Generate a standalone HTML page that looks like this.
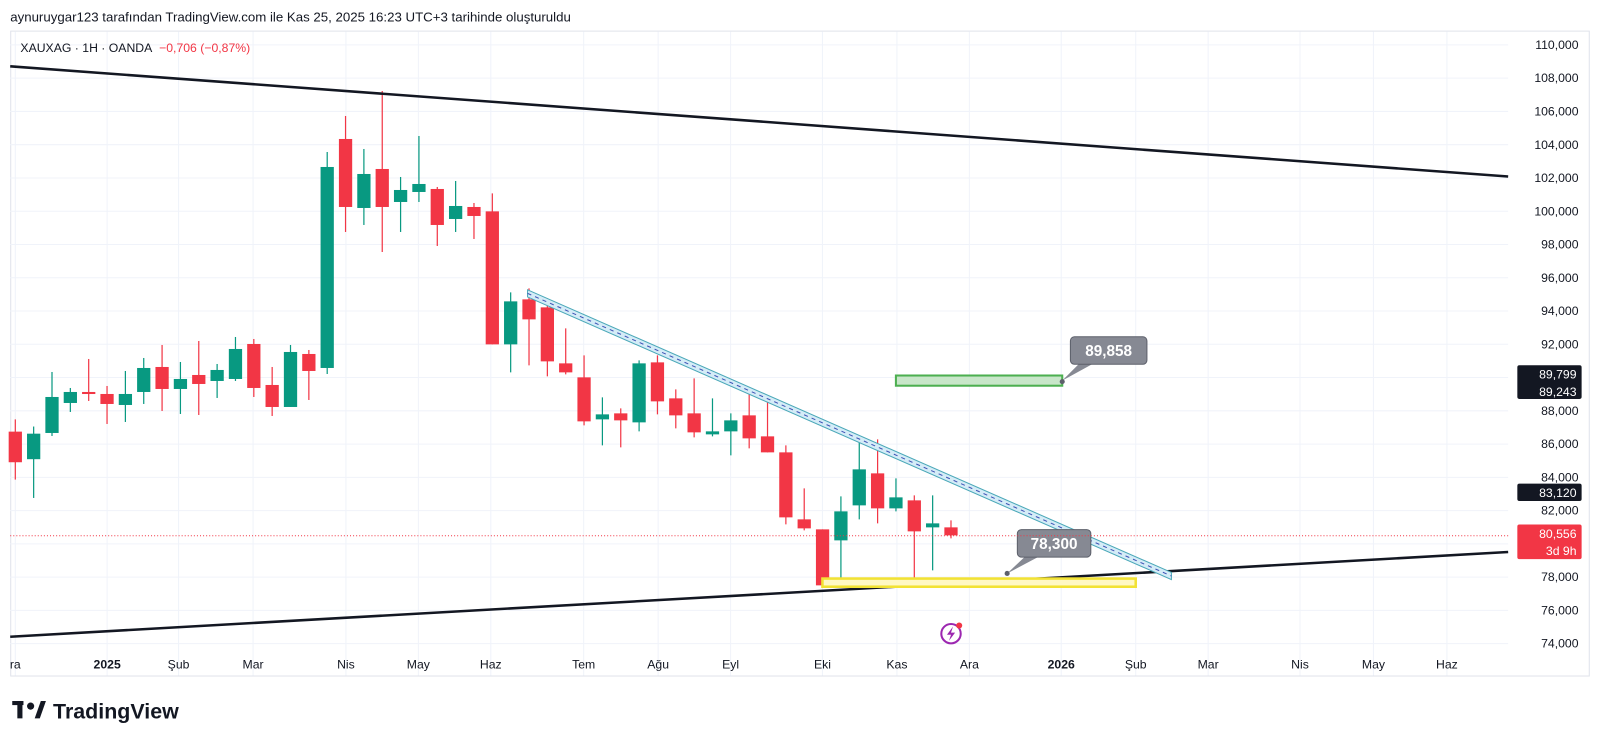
<!DOCTYPE html>
<html><head><meta charset="utf-8">
<style>
html,body{margin:0;padding:0;background:#fff;width:1600px;height:745px;overflow:hidden;font-family:"Liberation Sans",sans-serif;}
svg text{font-family:"Liberation Sans",sans-serif;}
</style></head>
<body>
<svg id="s" width="1600" height="745" viewBox="0 0 1600 745" xmlns="http://www.w3.org/2000/svg">
<rect x="0" y="0" width="1600" height="745" fill="#fff"/>
<g transform="scale(1.0204)">
<text x="10" y="21" font-size="13" fill="#131722">aynuruygar123 tarafından TradingView.com ile Kas 25, 2025 16:23 UTC+3 tarihinde oluşturuldu</text>
<rect x="10.5" y="30.5" width="1547" height="632" fill="none" stroke="#e0e3eb"/>
<g id="grid"></g>
<g id="candles"></g>
<line x1="10" y1="65" x2="1478" y2="173" stroke="#131722" stroke-width="2.5"/>
<line x1="10" y1="624" x2="1478" y2="541" stroke="#131722" stroke-width="2.5"/>
<polygon points="517,284 1148,561 1148,568 517,291" fill="#d4ecf7" stroke="#4aa8b8" stroke-width="1"/>
<line x1="517" y1="287.5" x2="1148" y2="564.5" stroke="#3f51b5" stroke-width="1" stroke-dasharray="4,4"/>
<rect x="878" y="368" width="163" height="10" fill="#c8e6c9" stroke="#4caf50" stroke-width="2"/>
<rect x="806" y="567" width="307" height="8" fill="#fff8c4" stroke="#f2e234" stroke-width="2.5"/>
<polygon points="1041,373 1058,356 1072,356" fill="#868993"/>
<circle cx="1041" cy="374" r="2.5" fill="#5d606b"/>
<rect x="1049" y="330" width="75" height="27" rx="4" fill="#868993" stroke="#5d606b"/>
<text x="1086.5" y="349" font-size="15" font-weight="bold" fill="#fff" text-anchor="middle">89,858</text>
<polygon points="987,562 1005,545 1019,545" fill="#868993"/>
<circle cx="987" cy="562" r="2.5" fill="#5d606b"/>
<rect x="997" y="519" width="72" height="27" rx="4" fill="#868993" stroke="#5d606b"/>
<text x="1033" y="538" font-size="15" font-weight="bold" fill="#fff" text-anchor="middle">78,300</text>
<line x1="10" y1="525" x2="1478" y2="525" stroke="#f23645" stroke-width="1" stroke-dasharray="1,2"/>
<circle cx="932" cy="621" r="9.5" fill="none" stroke="#9c27b0" stroke-width="2"/>
<path d="M934 614 L928 622 L932 622 L930 628 L936 620 L932 620 Z" fill="#9c27b0"/>
<circle cx="940" cy="613" r="3" fill="#f23645"/>
<text x="20" y="51" font-size="12" fill="#131722">XAUXAG · 1H · OANDA <tspan fill="#f23645" dx="4">−0,706 (−0,87%)</tspan></text>
<g id="axis"></g>
<rect x="1487" y="358" width="63" height="33" rx="2" fill="#131722"/>
<text x="1545" y="371" font-size="12" fill="#fff" text-anchor="end">89,799</text>
<text x="1545" y="388" font-size="12" fill="#fff" text-anchor="end">89,243</text>
<rect x="1487" y="474" width="63" height="17" rx="2" fill="#131722"/>
<text x="1545" y="487" font-size="12" fill="#fff" text-anchor="end">83,120</text>
<rect x="1487" y="514" width="63" height="34" rx="2" fill="#f23645"/>
<text x="1545" y="527" font-size="12" fill="#fff" text-anchor="end">80,556</text>
<text x="1545" y="544" font-size="12" fill="#fff" text-anchor="end">3d 9h</text>
<g transform="translate(12,687)">
<rect x="0" y="0" width="11" height="4" fill="#131722"/>
<rect x="5" y="0" width="5" height="17" fill="#131722"/>
<circle cx="18" cy="5" r="3.5" fill="#131722"/>
<polygon points="22,17 28,0 33,0 27,17" fill="#131722"/>
</g>
<text x="52" y="704" font-size="21" font-weight="bold" fill="#131722">TradingView</text>
</g>
</svg>
<script>
var NS="http://www.w3.org/2000/svg";
function el(p,t,a){var e=document.createElementNS(NS,t);for(var k in a)e.setAttribute(k,a[k]);p.appendChild(e);return e;}
var grid=document.getElementById('grid'),axis=document.getElementById('axis'),cg=document.getElementById('candles');
function py(p){return 44+(110000-p)/2000*32.6;}
for(var p=74000;p<=110000;p+=2000){var y=py(p);
 el(grid,'line',{x1:10,x2:1478,y1:y,y2:y,stroke:'#f0f3fa'});
 var t=el(axis,'text',{x:1547,y:y+4,'font-size':12,fill:'#131722','text-anchor':'end'});t.textContent=(p/1000)+',000';}
var months=[[15,'ra'],[105,'2025',1],[175,'Şub'],[248,'Mar'],[339,'Nis'],[410,'May'],[481,'Haz'],[572,'Tem'],[645,'Ağu'],[716,'Eyl'],[806,'Eki'],[879,'Kas'],[950,'Ara'],[1040,'2026',1],[1113,'Şub'],[1184,'Mar'],[1274,'Nis'],[1346,'May'],[1418,'Haz']];
months.forEach(function(m){el(grid,'line',{x1:m[0],x2:m[0],y1:31,y2:662,stroke:'#f0f3fa'});
 var t=el(axis,'text',{x:m[0],y:655,'font-size':12,fill:'#131722','text-anchor':'middle','font-weight':m[2]?'bold':'normal'});t.textContent=m[1];});
var z1=[[423,453,411,470,0,1],[425,450,418,488,1,1],
[398,434,373,437,1],[393,404,389,413,1],[393,395,360,402,0],[395,405,387,425,0],[395,406,372,423,1],[369,393,359,405,1],[368,390,346,412,0],[380,390,363,415,1],[376,385,342,416,0],[371,382,365,399,1],[350,380,338,382,1],[345,389,340,398,0],[386,408,368,417,0],[353,408,346,408,1],[355,372,351,401,0],[168,369,153,375,1],[140,208,117,233,0],[175,209,150,226,1],[170,208,92,253,0],[191,203,178,233,1],[185,193,137,203,1],[190,226,188,247,0],[207,220,182,233,1],[208,217,204,240,0]];
var z2=[[213,346,195,346,0],[303,346,294,374,1],[301,321,290,367,0],[309,363,300,378,0],[365,374,330,376,0],[379,423,357,427,0],[416,421,399,447,1],[415,422,410,449,0],[365,424,362,433,1],[364,403,357,416,0],[400,417,391,430,0],[415,434,380,439,0],[433,436,400,438,1],[422,433,415,457,1],[417,440,393,450,0],[438,454,397,454,0],[454,519,447,526,0],[521,530,490,532,0],[531,587,531,587,0],[513,542,498,587,1],[471,507,439,521,1],[475,510,441,525,0],[499,510,480,513,1],[502,533,497,583,0],[525,529,497,572,1],[529,537,522,540,0]];
var all=[];
z1.forEach(function(c,i){var f=c[5]?function(v){return v;}:function(v){return 97+(v-100)*0.98;};all.push([f(c[0]),f(c[1]),f(c[2]),f(c[3]),c[4]]);});
z2.forEach(function(c){var f=function(v){return 165+(v-170)*0.98;};all.push([f(c[0]),f(c[1]),f(c[2]),f(c[3]),c[4]]);});
all.forEach(function(c,i){var x=15+17.98*i;var col=c[4]?'#089981':'#f23645';
 el(cg,'line',{x1:x,x2:x,y1:c[2],y2:c[3],stroke:col,'stroke-width':1.2});
 el(cg,'rect',{x:x-6.5,y:c[0],width:13,height:Math.max(2,c[1]-c[0]),fill:col});});
</script>
</body></html>
